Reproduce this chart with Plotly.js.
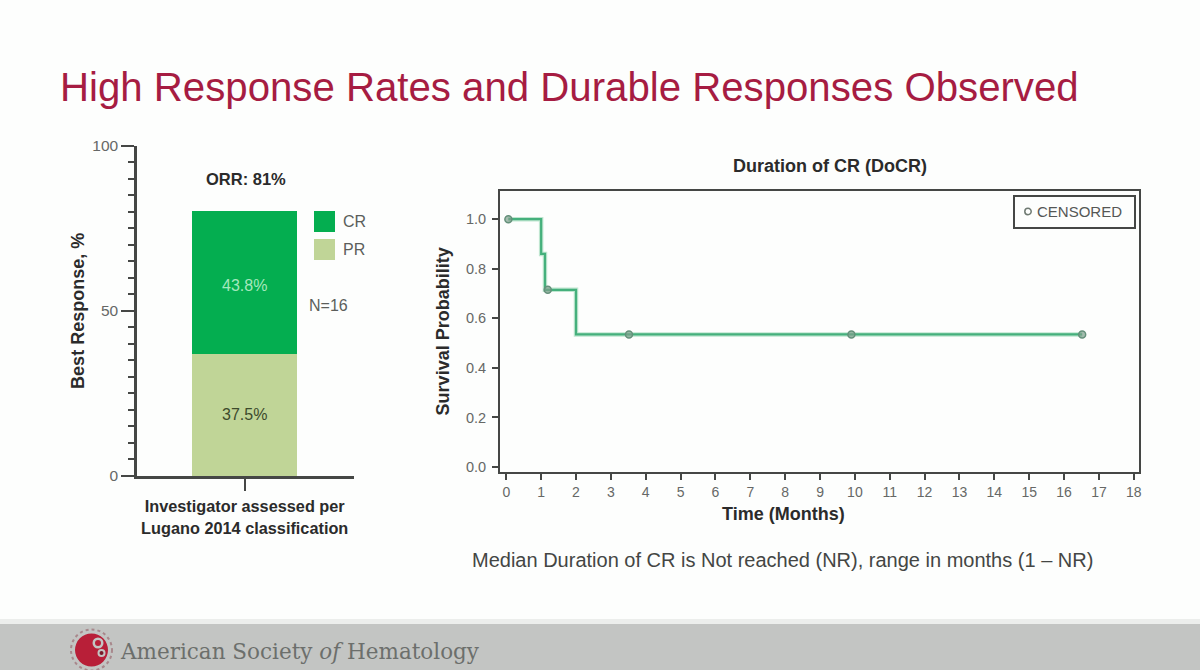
<!DOCTYPE html>
<html>
<head>
<meta charset="utf-8">
<script src="https://cdn.plot.ly/plotly-3.0.1.min.js"></script>
<style>html,body{margin:0;padding:0;background:#fdfefd}#c{width:1200px;height:670px}</style>
</head>
<body>
<div id="c"></div>
<script>
const categories = ["Investigator assessed per<br>Lugano 2014 classification"];
const prValues = [36.9];
const crValues = [43.4];
const prLabel = "37.5%";
const crLabel = "43.8%";
const kmTime = [0.06, 1.0, 1.11, 2.0, 16.52];
const kmSurvival = [1.0, 0.86, 0.715, 0.535, 0.535];
const censoredTime = [0.06, 1.19, 3.52, 9.9, 16.52];
const censoredSurvival = [1.0, 0.715, 0.535, 0.535, 0.535];
const xTicks = [0,1,2,3,4,5,6,7,8,9,10,11,12,13,14,15,16,17,18];
const yTicks = [0,0.2,0.4,0.6,0.8,1.0];

const W = 1200, H = 670;
const px = v => v / W;
const py = v => 1 - v / H;
const font = "Liberation Sans, Arial, sans-serif";
const GREEN = "#04ae50", LIGHT = "#c0d597", AX = "#454745", TICK = "#666866", DARK = "#2b2b2b";

const traces = [
  {type:"bar", x:categories, y:prValues, name:"PR", width:1, marker:{color:LIGHT}, xaxis:"x", yaxis:"y", showlegend:false, hoverinfo:"name+y"},
  {type:"bar", x:categories, y:crValues, name:"CR", width:1, marker:{color:GREEN}, xaxis:"x", yaxis:"y", showlegend:false, hoverinfo:"name+y"},
  {type:"scatter", mode:"lines", x:kmTime, y:kmSurvival, line:{shape:"hv", color:"#bfe6d0", width:4.5}, xaxis:"x2", yaxis:"y2", showlegend:false, hoverinfo:"skip"},
  {type:"scatter", mode:"lines", x:kmTime, y:kmSurvival, line:{shape:"hv", color:"#45b07c", width:2.2}, xaxis:"x2", yaxis:"y2", showlegend:false},
  {type:"scatter", mode:"markers", name:"CENSORED", x:censoredTime, y:censoredSurvival, xaxis:"x2", yaxis:"y2", showlegend:false,
   marker:{symbol:"circle", size:7, color:"rgba(125,160,140,0.7)", line:{color:"#64907a", width:1.5}}}
];

const note = (text, x, y, size, color, bold) => ({
  text: bold ? "<b>"+text+"</b>" : text, xref:"paper", yref:"paper", x:px(x), y:py(y),
  xanchor:"center", yanchor:"middle", showarrow:false, font:{family:font, size:size, color:color}
});
const rect = (x0,y0,x1,y1,fill) => ({type:"rect", xref:"paper", yref:"paper", x0:px(x0), x1:px(x1), y0:py(y0), y1:py(y1), fillcolor:fill, line:{width:0}, layer:"below"});
const circ = (cx,cy,r,fill,line) => ({type:"circle", xref:"paper", yref:"paper", x0:px(cx-r), x1:px(cx+r), y0:py(cy+r), y1:py(cy-r), fillcolor:fill, line:line||{width:0}, layer:"below"});

const layout = {
  width:W, height:H, margin:{l:0,r:0,t:0,b:0},
  paper_bgcolor:"#fdfefd", plot_bgcolor:"rgba(0,0,0,0)",
  barmode:"stack", bargap:0,
  font:{family:font},
  title:{text:"High Response Rates and Durable Responses Observed", x:px(60), xanchor:"left", xref:"paper", y:py(87), yanchor:"middle", yref:"container",
         font:{family:font, size:40.2, color:"#a61c42"}},
  xaxis:{domain:[px(137),px(354)], anchor:"y", type:"category", range:[-1.023,1.038], showline:true, linecolor:AX, linewidth:2.5,
         ticks:"outside", ticklen:12, tickwidth:2, tickcolor:AX, showgrid:false, zeroline:false,
         tickfont:{family:font, size:16.3, color:DARK}, tickprefix:"<b>", ticksuffix:"</b>", ticklabelstandoff:2},
  yaxis:{domain:[py(476),py(145.7)], anchor:"x", range:[0,100], tickvals:[0,50,100], showline:true, linecolor:AX, linewidth:2.5,
         ticks:"outside", ticklen:13, tickwidth:2, tickcolor:AX, showgrid:false, zeroline:false,
         tickfont:{family:font, size:15.5, color:TICK},
         minor:{dtick:5, ticks:"outside", ticklen:6, tickwidth:2, tickcolor:AX, showgrid:false},
         title:{text:"<b>Best Response, %</b>", font:{family:font, size:18, color:DARK}, standoff:3}},
  xaxis2:{domain:[px(500),px(1139)], anchor:"y2", range:[-0.18,18.15], tickvals:xTicks, showline:true, mirror:true, linecolor:AX, linewidth:2,
          ticks:"outside", ticklen:6, tickwidth:1.5, tickcolor:AX, showgrid:false, zeroline:false,
          tickfont:{family:font, size:14, color:TICK}},
  yaxis2:{domain:[py(472),py(190.7)], anchor:"x2", range:[-0.02,1.115], tickvals:yTicks, tickformat:".1f", showline:true, mirror:true, linecolor:AX, linewidth:2,
          ticks:"outside", ticklen:6, tickwidth:1.5, tickcolor:AX, showgrid:false, zeroline:false,
          tickfont:{family:font, size:14.5, color:TICK}, ticklabelstandoff:3,
          title:{text:"<b>Survival Probability</b>", font:{family:font, size:18, color:DARK}, standoff:12}},
  showlegend:false,
  annotations:[
    note("ORR: 81%", 245.5, 179, 16.5, DARK, true),
    {text:crLabel, xref:"x", yref:"y", x:0, y:57.6, showarrow:false, font:{family:font,size:16,color:"#a5e8bd"}},
    {text:prLabel, xref:"x", yref:"y", x:0, y:18.7, showarrow:false, font:{family:font,size:16,color:"#3c4a2c"}},
    note("CR", 354, 221.5, 16, "#5b5e5b"),
    note("PR", 354, 249.5, 16, "#5b5e5b"),
    note("N=16", 328.5, 306, 16, "#5b5e5b"),
    note("<b>Duration of CR (DoCR)</b>", 830, 166, 18, DARK),
    note("<b>Time (Months)</b>", 783, 514, 18, DARK),
    note("CENSORED", 1079.5, 211.5, 15, "#555755"),
    note("Median Duration of CR is Not reached (NR), range in months (1 – NR)", 782.5, 560, 20, "#444644"),
    {text:"American Society <i>of</i> Hematology", xref:"paper", yref:"paper", x:px(118), y:py(651), xanchor:"left", yanchor:"middle", showarrow:false,
     font:{family:"DejaVu Serif, serif", size:21.5, color:"#6c6f6c"}}
  ],
  shapes:[
    rect(0,619,1200,624,"#eceeec"),
    rect(0,624,1200,670,"#c3c5c3"),
    rect(314,211,335,232,GREEN),
    rect(314,239,335,260,LIGHT),
    {type:"rect", xref:"paper", yref:"paper", x0:px(1014), x1:px(1135), y0:py(228), y1:py(196), fillcolor:"rgba(0,0,0,0)", line:{color:AX,width:2}},
    {type:"circle", xref:"paper", yref:"paper", x0:px(1024.8), x1:px(1031.2), y0:py(214.7), y1:py(208.3), fillcolor:"rgba(0,0,0,0)", line:{color:"#6f7a72",width:1.5}},
    circ(91.5,650,20.5,"rgba(0,0,0,0)",{color:"#a8888c",width:2,dash:"dot"}),
    circ(91.5,650,16.5,"#b81f38"),
    circ(98,643,5.5,"#c3c5c3"),
    circ(98,643,3,"#b81f38"),
    circ(101.5,653,4,"#c3c5c3"),
    circ(101.5,653,2,"#7a1a28")
  ]
};
Plotly.newPlot("c", traces, layout, {displayModeBar:false, responsive:false});
</script>
</body>
</html>
